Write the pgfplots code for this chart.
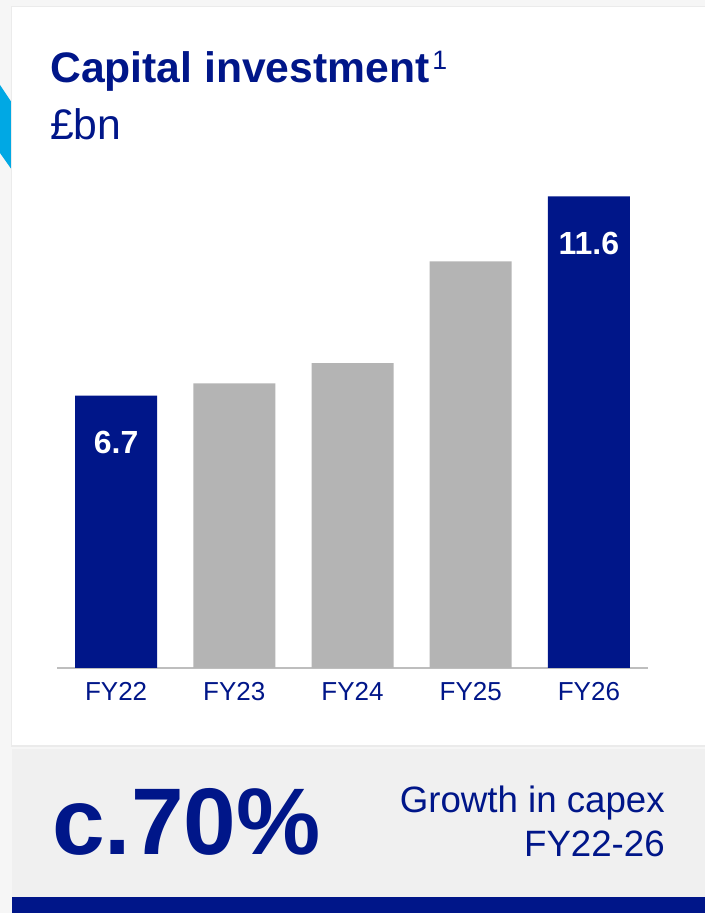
\documentclass[border=0pt]{standalone}
\usepackage{pgfplots}
\pgfplotsset{compat=1.18}
\usepackage{fontspec}
\setmainfont{Liberation Sans}
\definecolor{navy}{RGB}{0,22,137}
\definecolor{bargray}{RGB}{180,180,180}
\definecolor{axisgray}{RGB}{190,190,190}
\definecolor{panelgray}{RGB}{240,240,240}
\definecolor{pagegray}{RGB}{246,246,246}
\definecolor{chevron}{RGB}{0,168,228}
\begin{document}
\begin{tikzpicture}[x=0.75pt,y=0.75pt]
% page, card, panel (1 unit = 1 px of the reference, y from bottom)
\fill[pagegray] (0,0) rectangle (705,913);
\fill[chevron] (0,828) -- (12,810) -- (12,743) -- (0,760) -- cycle;
\fill[black!8] (11,166) rectangle (705,907);
\fill[white] (12,168) rectangle (705,906);
\fill[panelgray] (12,16) rectangle (705,164);
\fill[navy] (12,0) rectangle (705,16);
\coordinate (axorig) at (57,245);
% titles
\node[anchor=base west,inner sep=0pt,text=navy] at (50,830)
  {\fontsize{32}{38}\selectfont\bfseries Capital investment\hspace{2pt}\raisebox{10pt}{\fontsize{20}{24}\selectfont\mdseries 1}};
\node[anchor=base west,inner sep=0pt,text=navy] at (50,773)
  {\fontsize{32}{38}\selectfont £bn};
\begin{axis}[
  at={(axorig)}, anchor=south west,
  scale only axis,
  width=443.25pt, height=365.85pt,
  xmin=-0.5, xmax=4.5, ymin=0, ymax=12,
  axis y line=none,
  axis x line*=bottom,
  x axis line style={draw=axisgray, line width=1.5pt},
  xtick={0,1,2,3,4},
  xticklabels={FY22,FY23,FY24,FY25,FY26},
  major tick length=0pt,
  xticklabel style={anchor=north, inner sep=0pt, yshift=-10.5pt,
    text=navy, font=\fontsize{19.5}{23}\selectfont},
  ytick=\empty,
  ybar, bar width=61.5pt, bar shift=0pt,
  clip=false,
]
\addplot[fill=bargray, draw=none] coordinates {(1,7.0) (2,7.5) (3,10.0)};
\addplot[fill=navy, draw=none,
  nodes near coords,
  /pgf/number format/assume math mode=true,
  /pgf/number format/fixed, /pgf/number format/precision=1,
  every node near coord/.append style={anchor=center, yshift=-35pt,
    text=white, font=\fontsize{24}{28}\selectfont\bfseries}]
  coordinates {(0,6.7) (4,11.6)};
\end{axis}
% bottom panel text
\node[anchor=base west,inner sep=0pt,text=navy] at (52,58)
  {\fontsize{71}{80}\selectfont\bfseries c.70\%};
\node[anchor=base east,inner sep=0pt,text=navy] at (665,100)
  {\fontsize{27.5}{32}\selectfont Growth in capex};
\node[anchor=base east,inner sep=0pt,text=navy] at (665,56)
  {\fontsize{27.5}{32}\selectfont FY22-26};
\end{tikzpicture}
\end{document}
